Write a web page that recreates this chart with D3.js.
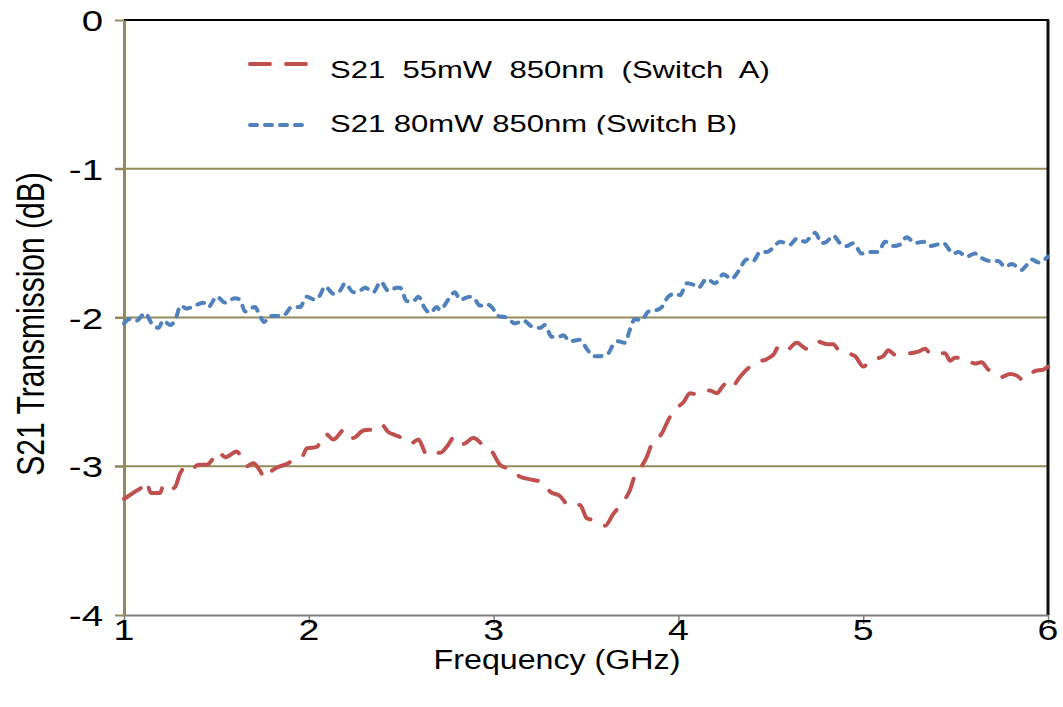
<!DOCTYPE html>
<html>
<head>
<meta charset="utf-8">
<script src="https://cdn.jsdelivr.net/npm/d3@7"></script>
<style>
  html, body { margin: 0; padding: 0; background: #fff; }
  svg { display: block; font-family: "Liberation Sans", Arial, sans-serif; }
</style>
</head>
<body>
<svg id="chart" width="1063" height="707"></svg>
<script>
// Frequency sweep (GHz) and S21 transmission (dB) for the two switches
const freqA = [1.000,1.060,1.096,1.119,1.146,1.195,1.213,1.240,1.276,1.303,1.330,1.357,1.402,1.448,1.475,1.510,1.547,1.610,1.646,1.664,1.700,1.736,1.763,1.790,1.826,1.889,1.925,1.962,1.989,2.043,2.088,2.133,2.196,2.241,2.295,2.367,2.394,2.430,2.466,2.503,2.548,2.593,2.638,2.674,2.710,2.746,2.791,2.836,2.890,2.953,2.990,3.035,3.107,3.143,3.206,3.269,3.305,3.359,3.413,3.468,3.504,3.567,3.603,3.648,3.693,3.738,3.765,3.801,3.828,3.856,3.910,3.945,3.972,4.027,4.063,4.117,4.171,4.207,4.252,4.279,4.333,4.370,4.424,4.478,4.514,4.541,4.577,4.640,4.694,4.748,4.811,4.838,4.874,4.911,4.956,5.001,5.037,5.109,5.136,5.172,5.208,5.253,5.298,5.334,5.371,5.443,5.470,5.497,5.542,5.605,5.641,5.677,5.704,5.749,5.794,5.830,5.866,5.929,5.975,6.000];
const s21A = [-3.22,-3.17,-3.14,-3.10,-3.18,-3.18,-3.13,-3.16,-3.14,-3.05,-3.01,-3.03,-2.99,-2.99,-2.96,-2.90,-2.94,-2.90,-2.97,-3.00,-2.98,-3.03,-3.08,-3.04,-3.01,-2.98,-2.95,-2.94,-2.88,-2.87,-2.78,-2.82,-2.75,-2.81,-2.76,-2.75,-2.72,-2.77,-2.79,-2.81,-2.85,-2.82,-2.92,-2.90,-2.91,-2.87,-2.80,-2.85,-2.81,-2.87,-2.90,-2.99,-3.03,-3.07,-3.09,-3.11,-3.17,-3.20,-3.27,-3.26,-3.35,-3.37,-3.40,-3.32,-3.25,-3.16,-3.06,-3.00,-2.94,-2.85,-2.78,-2.69,-2.63,-2.57,-2.51,-2.52,-2.49,-2.51,-2.45,-2.48,-2.40,-2.35,-2.30,-2.28,-2.25,-2.20,-2.23,-2.17,-2.21,-2.16,-2.18,-2.18,-2.23,-2.24,-2.26,-2.33,-2.29,-2.26,-2.22,-2.25,-2.24,-2.24,-2.23,-2.21,-2.25,-2.24,-2.29,-2.27,-2.27,-2.31,-2.30,-2.35,-2.36,-2.40,-2.38,-2.39,-2.42,-2.36,-2.35,-2.33];

const freqB = [1.000,1.032,1.069,1.114,1.150,1.186,1.213,1.249,1.276,1.307,1.339,1.384,1.429,1.456,1.502,1.547,1.601,1.628,1.655,1.682,1.709,1.736,1.758,1.790,1.844,1.871,1.907,1.952,1.989,2.034,2.061,2.088,2.133,2.169,2.196,2.241,2.277,2.304,2.349,2.389,2.430,2.476,2.494,2.530,2.565,2.593,2.629,2.656,2.692,2.710,2.755,2.791,2.818,2.872,2.899,2.926,2.963,2.990,3.025,3.071,3.116,3.161,3.206,3.251,3.278,3.314,3.350,3.377,3.413,3.468,3.504,3.540,3.576,3.621,3.648,3.675,3.711,3.738,3.765,3.801,3.837,3.883,3.910,3.945,3.982,4.009,4.045,4.081,4.108,4.153,4.198,4.243,4.288,4.324,4.370,4.405,4.442,4.478,4.514,4.550,4.604,4.640,4.685,4.740,4.775,4.802,4.838,4.874,4.911,4.946,4.992,5.028,5.082,5.118,5.163,5.199,5.235,5.280,5.325,5.361,5.398,5.433,5.488,5.515,5.560,5.605,5.641,5.686,5.731,5.767,5.804,5.858,5.876,5.912,5.948,6.000];
const s21B = [-2.04,-2.01,-2.02,-1.97,-2.04,-2.07,-2.02,-2.05,-2.02,-1.92,-1.94,-1.92,-1.90,-1.93,-1.86,-1.90,-1.87,-1.88,-1.96,-1.94,-1.93,-1.99,-2.03,-1.99,-1.99,-1.98,-1.93,-1.93,-1.86,-1.88,-1.85,-1.79,-1.84,-1.82,-1.77,-1.83,-1.82,-1.80,-1.83,-1.76,-1.82,-1.80,-1.80,-1.89,-1.89,-1.86,-1.94,-1.97,-1.93,-1.95,-1.88,-1.83,-1.88,-1.86,-1.88,-1.92,-1.91,-1.93,-1.99,-2.00,-2.04,-2.02,-2.06,-2.07,-2.05,-2.13,-2.13,-2.12,-2.16,-2.15,-2.21,-2.26,-2.26,-2.24,-2.18,-2.16,-2.17,-2.08,-2.01,-2.02,-1.96,-1.95,-1.93,-1.86,-1.84,-1.85,-1.77,-1.78,-1.80,-1.74,-1.77,-1.71,-1.74,-1.69,-1.61,-1.62,-1.56,-1.56,-1.53,-1.49,-1.51,-1.47,-1.49,-1.43,-1.50,-1.49,-1.45,-1.50,-1.52,-1.50,-1.57,-1.56,-1.56,-1.49,-1.52,-1.51,-1.46,-1.50,-1.49,-1.52,-1.51,-1.50,-1.57,-1.56,-1.59,-1.57,-1.60,-1.62,-1.62,-1.66,-1.64,-1.68,-1.66,-1.61,-1.63,-1.59];

const xTicks = [1, 2, 3, 4, 5, 6];
const yTicks = [0, -1, -2, -3, -4];
const seriesNames = ["S21  55mW  850nm  (Switch  A)", "S21 80mW 850nm (Switch B)"];

const svg = d3.select("#chart");
const plot = { left: 124, right: 1048, top: 20, bottom: 615 };

const x = d3.scaleLinear().domain([1, 6]).range([plot.left, plot.right]);
const y = d3.scaleLinear().domain([-4, 0]).range([plot.bottom, plot.top]);

const olive = "#958B5A";

// horizontally stretched text helper
function label(g, txt, px, py, size, anchor, sx, rotate) {
  return g.append("text")
    .attr("transform", `translate(${px},${py}) scale(${sx},1)` + (rotate ? ` rotate(${rotate})` : ""))
    .attr("text-anchor", anchor)
    .attr("font-size", size)
    .attr("fill", "#000")
    .style("white-space", "pre")
    .text(txt);
}

// horizontal gridlines
svg.append("g")
  .selectAll("line")
  .data(yTicks.filter(d => d > -4 && d < 0))
  .join("line")
  .attr("x1", plot.left - 9).attr("x2", plot.right)
  .attr("y1", d => y(d)).attr("y2", d => y(d))
  .attr("stroke", olive).attr("stroke-width", 2);

// top and right frame
svg.append("line").attr("x1", plot.left).attr("x2", plot.right + 1)
  .attr("y1", plot.top).attr("y2", plot.top)
  .attr("stroke", "#000").attr("stroke-width", 2);
svg.append("line").attr("x1", plot.right).attr("x2", plot.right)
  .attr("y1", plot.top).attr("y2", plot.bottom)
  .attr("stroke", "#111").attr("stroke-width", 3);

// bottom axis
const xAxis = svg.append("g").attr("transform", `translate(0,${plot.bottom})`)
  .call(d3.axisBottom(x).tickValues(xTicks).tickSize(9).tickSizeOuter(0).tickFormat(() => ""));
xAxis.select(".domain").attr("stroke", "#808080").attr("stroke-width", 2);
xAxis.selectAll(".tick line").attr("stroke", "#808080").attr("stroke-width", 1.5);

// left axis
const yAxis = svg.append("g").attr("transform", `translate(${plot.left},0)`)
  .call(d3.axisLeft(y).tickValues(yTicks).tickSize(9).tickSizeOuter(0).tickFormat(() => ""));
yAxis.select(".domain").attr("stroke", olive).attr("stroke-width", 3);
yAxis.selectAll(".tick line").attr("stroke", olive).attr("stroke-width", 2);

// tick labels
const labels = svg.append("g");
xTicks.forEach(v => label(labels, String(v), x(v), 640, 30, "middle", 1.25));
yTicks.forEach(v => label(labels, String(v), 103, y(v) + 11, 30, "end", 1.28));

// axis titles
label(labels, "Frequency (GHz)", 557, 669, 28, "middle", 1.15);
label(svg, "S21 Transmission (dB)", 44, 324, 30, "middle", 1.28, -90);

// curves
const line = d3.line().x(d => x(d[0])).y(d => y(d[1])).curve(d3.curveMonotoneX);
const dataA = freqA.map((f, i) => [f, s21A[i]]);
const dataB = freqB.map((f, i) => [f, s21B[i]]);

const styles = [
  { color: "#C0504D", dash: "20,16", textY: 78 },
  { color: "#4F81BD", dash: "7,8", textY: 132 }
];

svg.append("path").datum(dataA).attr("d", line)
  .attr("fill", "none").attr("stroke", styles[0].color).attr("stroke-width", 4)
  .attr("stroke-linecap", "round").attr("stroke-dasharray", styles[0].dash);
svg.append("path").datum(dataB).attr("d", line)
  .attr("fill", "none").attr("stroke", styles[1].color).attr("stroke-width", 4)
  .attr("stroke-linecap", "round").attr("stroke-dasharray", styles[1].dash);

// legend, cut off along its lower edge
svg.append("clipPath").attr("id", "legendClip")
  .append("rect").attr("x", 230).attr("y", 35).attr("width", 560).attr("height", 99.5);
const legend = svg.append("g").attr("clip-path", "url(#legendClip)");
seriesNames.forEach((name, i) => {
  const ly = 64 + i * 61;
  legend.append("line")
    .attr("x1", 250).attr("x2", 306).attr("y1", ly).attr("y2", ly)
    .attr("stroke", styles[i].color).attr("stroke-width", 4)
    .attr("stroke-linecap", "round").attr("stroke-dasharray", styles[i].dash);
  label(legend, name, 330, styles[i].textY, 23, "start", 1.35);
});
</script>
</body>
</html>
